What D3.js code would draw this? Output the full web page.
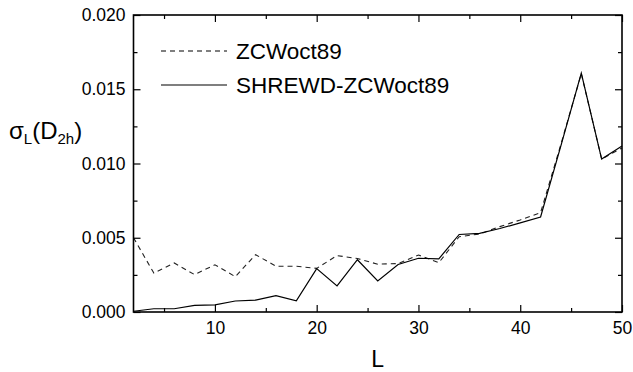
<!DOCTYPE html>
<html>
<head>
<meta charset="utf-8">
<script src="https://cdn.jsdelivr.net/npm/d3@7"></script>
<style>
  html, body { margin: 0; padding: 0; background: #fff; }
  text { font-family: "Liberation Sans", Arial, Helvetica, sans-serif; fill: #000; }
</style>
</head>
<body>
<svg id="chart" width="633" height="372"></svg>
<script>
const L = [2,4,6,8,10,12,14,16,18,20,22,24,26,28,30,32,34,36,38,40,42,44,46,48,50];
const zcw = [0.00500,0.00262,0.00330,0.00252,0.00318,0.00238,0.00386,0.00308,0.00308,0.00294,0.00380,0.00360,0.00322,0.00326,0.00384,0.00332,0.00507,0.00525,0.00575,0.00620,0.00669,0.01130,0.01605,0.01030,0.01105];
const shrewd = [0.00005,0.00022,0.00022,0.00045,0.00048,0.00074,0.00080,0.00110,0.00076,0.00292,0.00176,0.00352,0.00209,0.00320,0.00362,0.00358,0.00522,0.00530,0.00562,0.00600,0.00640,0.01120,0.01608,0.01030,0.01118];
const xMajor = [10,20,30,40,50];
const xMinor = [5,15,25,35,45];
const yMajor = [0.000,0.005,0.010,0.015,0.020];
const yMinor = [0.0025,0.0075,0.0125,0.0175];
const seriesNames = ["ZCWoct89","SHREWD-ZCWoct89"];

const svg = d3.select("#chart");
const m = {left:133.5, right:622, top:15, bottom:312};
const x = d3.scaleLinear().domain([2,50]).range([m.left, m.right]);
const y = d3.scaleLinear().domain([0,0.020]).range([m.bottom, m.top]);

// data lines
const line = d3.line().x((d,i)=>x(L[i])).y(d=>y(d));
svg.append("path").datum(zcw).attr("d", line)
  .attr("fill","none").attr("stroke","#222").attr("stroke-width",1.1)
  .attr("stroke-dasharray","5,4");
svg.append("path").datum(shrewd).attr("d", line)
  .attr("fill","none").attr("stroke","#000").attr("stroke-width",1.2);

// axes: ticks inward on all sides
const fmtY = d3.format(".3f");
const bottomAx = d3.axisBottom(x).tickValues(xMajor).tickSize(-7).tickPadding(10).tickFormat(d3.format("d"));
const gB = svg.append("g").attr("transform",`translate(0,${m.bottom})`).call(bottomAx);
const gBm = svg.append("g").attr("transform",`translate(0,${m.bottom})`).call(d3.axisBottom(x).tickValues(xMinor).tickSize(-4).tickFormat(""));
const gT = svg.append("g").attr("transform",`translate(0,${m.top})`).call(d3.axisTop(x).tickValues(xMajor).tickSize(-7).tickFormat(""));
const gTm = svg.append("g").attr("transform",`translate(0,${m.top})`).call(d3.axisTop(x).tickValues(xMinor).tickSize(-4).tickFormat(""));
const gL = svg.append("g").attr("transform",`translate(${m.left},0)`).call(d3.axisLeft(y).tickValues(yMajor).tickSize(-7).tickPadding(8).tickFormat(fmtY));
const gLm = svg.append("g").attr("transform",`translate(${m.left},0)`).call(d3.axisLeft(y).tickValues(yMinor).tickSize(-4).tickFormat(""));
const gR = svg.append("g").attr("transform",`translate(${m.right},0)`).call(d3.axisRight(y).tickValues(yMajor).tickSize(-7).tickFormat(""));
const gRm = svg.append("g").attr("transform",`translate(${m.right},0)`).call(d3.axisRight(y).tickValues(yMinor).tickSize(-4).tickFormat(""));
[gB,gBm,gT,gTm,gL,gLm,gR,gRm].forEach(g=>{
  g.select(".domain").remove();
  g.selectAll(".tick line").attr("stroke","#000").attr("stroke-width",1.2);
  g.selectAll(".tick text").attr("font-size",17.5).attr("font-family",'"Liberation Sans", Arial, sans-serif').attr("fill","#000");
});

// frame
svg.append("rect").attr("x",m.left).attr("y",m.top)
  .attr("width",m.right-m.left).attr("height",m.bottom-m.top)
  .attr("fill","none").attr("stroke","#000").attr("stroke-width",1.6);

// axis titles
svg.append("text").attr("x",(m.left+m.right)/2).attr("y",367)
  .attr("text-anchor","middle").attr("font-size",23).text("L");
const yt = svg.append("text").attr("x",9).attr("y",139).attr("font-size",24);
yt.append("tspan").text("σ");
yt.append("tspan").attr("font-size",15).attr("dy",5).text("L");
yt.append("tspan").attr("dy",-5).text("(D");
yt.append("tspan").attr("font-size",15).attr("dy",5).text("2h");
yt.append("tspan").attr("dy",-5).text(")");

// legend
const leg = [{name:seriesNames[0], dash:"5,4", y:51},{name:seriesNames[1], dash:null, y:85}];
leg.forEach(d=>{
  svg.append("line").attr("x1",161).attr("x2",227).attr("y1",d.y).attr("y2",d.y)
    .attr("stroke","#000").attr("stroke-width",1.1)
    .attr("stroke-dasharray",d.dash);
  svg.append("text").attr("x",236).attr("y",d.y+8).attr("font-size",22.5).text(d.name);
});
</script>
</body>
</html>
